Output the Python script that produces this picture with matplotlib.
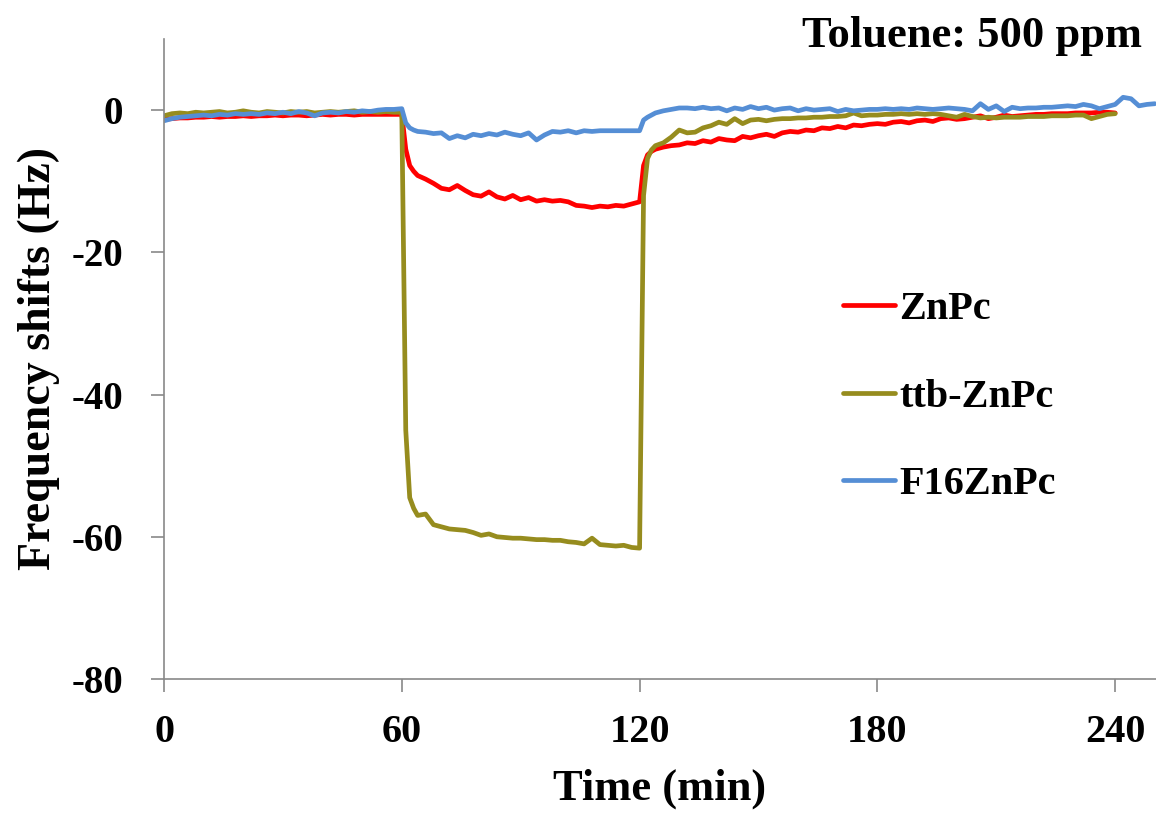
import matplotlib
matplotlib.use("Agg")
import matplotlib.pyplot as plt
import numpy as np

##############################################################################
# Data
# time grid: 0-58 every 2 min, step at 60-64, 66-118 every 2 min,
# step at 120-124, 126-250 every 2 min
time_pre = list(range(0, 60, 2))
time_on = [60, 61, 62, 63, 64]
time_exp = list(range(66, 120, 2))
time_off = [120, 121, 122, 123, 124]
time_rec = list(range(126, 252, 2))
time_min = np.array(time_pre + time_on + time_exp + time_off + time_rec, dtype=float)

znpc = [-1.3, -1.2, -1.1, -1.1, -1.0, -1.0, -0.9, -1.0, -0.9, -0.9,
        -0.8, -0.9, -0.8, -0.8, -0.7, -0.8, -0.7, -0.7, -0.8, -0.7,
        -0.6, -0.7, -0.6, -0.6, -0.7, -0.6, -0.6, -0.6, -0.6, -0.6,
        -0.6, -5.5, -7.8, -8.6, -9.2,
        -9.7, -10.3, -11.0, -11.2, -10.6, -11.3, -11.9, -12.1, -11.5, -12.2,
        -12.5, -12.0, -12.6, -12.3, -12.8, -12.6, -12.8, -12.7, -12.9, -13.4,
        -13.5, -13.7, -13.5, -13.6, -13.4, -13.5, -13.2,
        -12.9, -7.8, -6.3, -5.8, -5.5,
        -5.2, -5.0, -4.9, -4.6, -4.7, -4.3, -4.5, -4.0, -4.2, -4.3,
        -3.7, -3.9, -3.6, -3.4, -3.7, -3.2, -3.0, -3.1, -2.8, -2.9,
        -2.5, -2.6, -2.3, -2.5, -2.1, -2.2, -2.0, -1.9, -2.0, -1.7,
        -1.6, -1.8, -1.5, -1.4, -1.6, -1.2, -1.1, -1.3, -1.2, -1.0,
        -0.8, -1.2, -1.0, -0.7, -0.9, -0.8, -0.7, -0.6, -0.6, -0.5,
        -0.5, -0.5, -0.4, -0.4, -0.4, -0.3, -0.3, -0.4,
        np.nan, np.nan, np.nan, np.nan, np.nan]

ttb_znpc = [-0.8, -0.5, -0.4, -0.5, -0.3, -0.4, -0.3, -0.2, -0.4, -0.3,
            -0.1, -0.3, -0.4, -0.2, -0.3, -0.4, -0.2, -0.3, -0.2, -0.4,
            -0.3, -0.2, -0.3, -0.2, -0.1, -0.3, -0.2, -0.3, -0.2, -0.3,
            -0.3, -45.0, -54.5, -56.0, -57.0,
            -56.8, -58.3, -58.6, -58.9, -59.0, -59.1, -59.4, -59.8, -59.6, -60.0,
            -60.1, -60.2, -60.2, -60.3, -60.4, -60.4, -60.5, -60.5, -60.7, -60.8,
            -61.0, -60.2, -61.1, -61.2, -61.3, -61.2, -61.5,
            -61.6, -12.0, -6.8, -5.6, -5.0,
            -4.6, -3.8, -2.8, -3.2, -3.1, -2.5, -2.2, -1.7, -2.0, -1.2,
            -1.9, -1.4, -1.3, -1.5, -1.3, -1.2, -1.2, -1.1, -1.1, -1.0,
            -1.0, -0.9, -0.9, -0.8, -0.4, -0.8, -0.7, -0.7, -0.6, -0.6,
            -0.5, -0.6, -0.5, -0.6, -0.5, -0.6, -0.8, -1.0, -0.6, -0.9,
            -1.1, -1.0, -1.1, -1.0, -1.0, -1.0, -0.9, -0.9, -0.9, -0.8,
            -0.8, -0.8, -0.7, -0.7, -1.2, -0.9, -0.6, -0.5,
            np.nan, np.nan, np.nan, np.nan, np.nan]

f16znpc = [-1.5, -1.2, -1.0, -0.9, -0.8, -0.7, -0.8, -0.6, -0.7, -0.5,
           -0.6, -0.5, -0.6, -0.4, -0.5, -0.3, -0.5, -0.2, -0.4, -0.8,
           -0.4, -0.3, -0.4, -0.2, -0.3, -0.1, -0.2, 0.0, 0.1, 0.1,
           0.2, -1.8, -2.5, -2.8, -3.0,
           -3.1, -3.3, -3.2, -4.0, -3.6, -3.9, -3.4, -3.6, -3.3, -3.5,
           -3.1, -3.4, -3.6, -3.2, -4.2, -3.5, -3.0, -3.1, -2.9, -3.2,
           -2.9, -3.0, -2.9, -2.9, -2.9, -2.9, -2.9,
           -2.9, -1.4, -1.0, -0.7, -0.4,
           -0.1, 0.1, 0.3, 0.3, 0.2, 0.4, 0.2, 0.3, -0.1, 0.3,
           0.1, 0.5, 0.2, 0.4, 0.0, 0.2, 0.3, -0.1, 0.2, 0.0,
           0.1, 0.2, -0.2, 0.1, -0.1, 0.0, 0.1, 0.1, 0.2, 0.1,
           0.2, 0.1, 0.3, 0.2, 0.1, 0.2, 0.3, 0.2, 0.1, -0.1,
           0.9, 0.1, 0.6, -0.2, 0.4, 0.2, 0.3, 0.3, 0.4, 0.4,
           0.5, 0.6, 0.5, 0.8, 0.6, 0.2, 0.5, 0.8, 1.8, 1.6,
           0.6, 0.8, 0.9]

series_names = ["ZnPc", "ttb-ZnPc", "F16ZnPc"]
series_colors = ["#FF0000", "#968C1E", "#558ED5"]
x_ticks = [0, 60, 120, 180, 240]
y_ticks = [0, -20, -40, -60, -80]

##############################################################################
# Figure
plt.rcParams["font.family"] = ["Liberation Serif", "DejaVu Serif"]
plt.rcParams["font.weight"] = "bold"

fig = plt.figure(figsize=(11.56, 8.14), dpi=100)
ax = fig.add_axes([164 / 1156, 135 / 814, 1 - 164 / 1156, 640 / 814])

for name, vals, col in zip(series_names, [znpc, ttb_znpc, f16znpc], series_colors):
    ax.plot(time_min, np.array(vals, dtype=float), color=col, lw=3.4, label=name,
            solid_joinstyle="round", solid_capstyle="round")

ax.set_xlim(0, 250.3)
ax.set_ylim(-80, 10)
ax.set_xticks(x_ticks)
ax.set_yticks(y_ticks)
ax.set_xticklabels([str(v) for v in x_ticks], fontsize=29, fontweight="bold")
ax.set_yticklabels([str(v) for v in y_ticks], fontsize=28, fontweight="bold")

for side in ["top", "right"]:
    ax.spines[side].set_visible(False)
for side in ["left", "bottom"]:
    ax.spines[side].set_color("#898989")
    ax.spines[side].set_linewidth(1.2)
ax.tick_params(axis="both", direction="out", color="#898989", width=1.2, length=9.5)
ax.tick_params(axis="y", pad=20)
ax.tick_params(axis="x", pad=16)

ax.set_xlabel("Time (min)", fontsize=32, fontweight="bold", labelpad=12)
ax.set_ylabel("Frequency shifts (Hz)", fontsize=33, fontweight="bold", labelpad=8)

fig.text(1142 / 1156, 1 - 16 / 814, "Toluene: 500 ppm", ha="right", va="top",
         fontsize=32, fontweight="bold")

ax.legend(loc="upper left", bbox_to_anchor=(843 / 1156, 1 - 291 / 814),
          bbox_transform=fig.transFigure, frameon=False, fontsize=29,
          handlelength=1.3, handletextpad=0.1, labelspacing=1.25,
          borderpad=0, borderaxespad=0)

fig.savefig("out.png", dpi=100)
